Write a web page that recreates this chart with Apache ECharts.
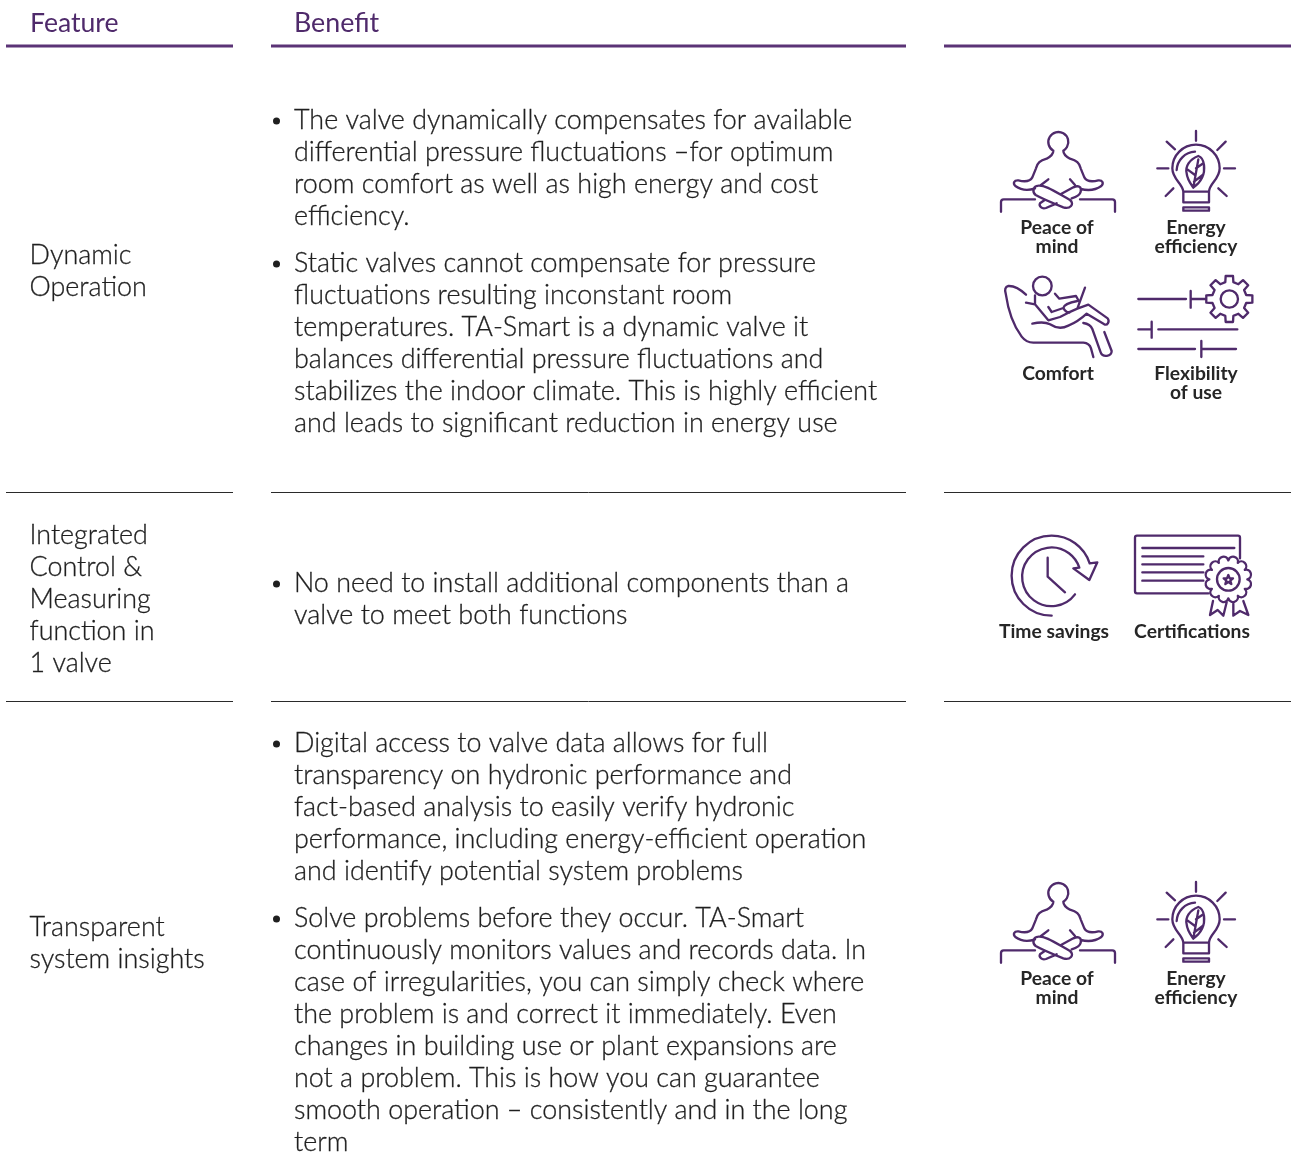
<!DOCTYPE html>
<html><head><meta charset="utf-8">
<script src="https://cdn.jsdelivr.net/npm/echarts@6/dist/echarts.min.js"></script>
<style>html,body{margin:0;padding:0;background:#fff}#c{width:1291px;height:1174px}</style>
</head><body><div id="c"></div>
<script>
const headers = ['Feature', 'Benefit'];
const features = [
  ['Dynamic', 'Operation'],
  ['Integrated', 'Control &', 'Measuring', 'function in', '1 valve'],
  ['Transparent', 'system insights']
];
const benefit1a = ['The valve dynamically compensates for available', 'differential pressure fluctuations –for optimum', 'room comfort as well as high energy and cost', 'efficiency.'];
const benefit1b = ['Static valves cannot compensate for pressure', 'fluctuations resulting inconstant room', 'temperatures. TA-Smart is a dynamic valve it', 'balances differential pressure fluctuations and', 'stabilizes the indoor climate. This is highly efficient', 'and leads to significant reduction in energy use'];
const benefit2 = ['No need to install additional components than a', 'valve to meet both functions'];
const benefit3a = ['Digital access to valve data allows for full', 'transparency on hydronic performance and', 'fact-based analysis to easily verify hydronic', 'performance, including energy-efficient operation', 'and identify potential system problems'];
const benefit3b = ['Solve problems before they occur. TA-Smart', 'continuously monitors values and records data. In', 'case of irregularities, you can simply check where', 'the problem is and correct it immediately. Even', 'changes in building use or plant expansions are', 'not a problem. This is how you can guarantee', 'smooth operation – consistently and in the long', 'term'];
const iconLabels = {peace:['Peace of','mind'], energy:['Energy','efficiency'], comfort:['Comfort'], flex:['Flexibility','of use'], time:['Time savings'], cert:['Certifications']};

const PURPLE = '#4f2a6b', INK = '#1f1f1f', RULE = '#5b3376';
const FONT = 'Lato', SIZE = 26.9, LH = 32;
const els = [];
function rule(x1, x2, y, w, c){ els.push({type:'line', shape:{x1,y1:y,x2,y2:y}, style:{stroke:c,lineWidth:w}}); }
function txt(s, x, y, o){ o=o||{}; const f=o.fill||INK; els.push({type:'text', x, y, style:{text:s, x:0, y:0, fill:f, stroke:o.stroke===0?null:f, lineWidth:o.stroke===0?0:0.3, font:(o.weight||300)+' '+(o.size||SIZE)+'px '+(o.font||FONT), textAlign:o.align||'left', textVerticalAlign:'middle'}}); }
function block(lines, x, y, lh){ lines.forEach((s,i)=>txt(s, x, y+i*(lh||LH))); }
function bullet(lines, y){ els.push({type:'circle', shape:{cx:276.5, cy:y+1, r:3.5}, style:{fill:INK}}); block(lines, 294, y); }

txt(headers[0], 30, 23, {fill:PURPLE, size:26.6, weight:400, stroke:0});
txt(headers[1], 294, 23, {fill:PURPLE, size:26.8, weight:400, stroke:0});
[[6,233],[271,906],[944,1291]].forEach(c=>{ rule(c[0],c[1],46,3,RULE); rule(c[0],c[1],492.5,1,'#2a2a2a'); rule(c[0],c[1],701.5,1,'#2a2a2a'); });

block(features[0], 29.5, 255);
block(features[1], 29.5, 535);
block(features[2], 29.5, 927);
bullet(benefit1a, 120); bullet(benefit1b, 263); bullet(benefit2, 583); bullet(benefit3a, 743);
bullet(benefit3b, 918);

let iconCount = 0;
function register(d){
  const name = 'iconShape' + (iconCount++);
  echarts.graphic.registerShape(name, echarts.graphic.extendPath(d, {}));
  return name;
}
function icon(shapeName, ox, oy){
  els.push({type:'group', x:ox, y:oy, scaleX:1/3, scaleY:1/3, children:[
    {type:shapeName, style:{fill:'none', stroke:PURPLE, lineWidth:7, lineCap:'round', lineJoin:'round'}}
  ]});
}
function label(lines, cx, y){ lines.forEach((s,i)=>txt(s, cx, y+1+i*19, {size:19.3, weight:700, align:'center', font:'Lato', fill:'#262626', stroke:0})); }

const peace = 'M190,92 C190,102 185,108 170,116 C150,122 142,128 138,145 L127,172 C120,185 105,186 85,181 C72,180 68,190 76,198 C90,208 110,214 135,205 M175,178 L153,195 '+
 'M220,92 C220,102 225,108 240,116 C260,122 268,128 272,145 L283,172 C290,185 305,186 325,181 C338,180 342,190 334,198 C320,208 300,214 272,207 M240,178 L255,195 '+
 'M190,92 A30,30 0 1 1 220,92 '+
 'M145,197 C165,195 190,212 240,240 C255,252 240,268 220,262 C190,250 160,238 137,225 C125,215 130,198 145,197 Z '+
 'M213,222 L250,202 C265,195 276,200 272,215 C270,225 255,232 245,235 M200,250 L168,264 C155,268 146,258 150,250 L163,241 '+
 'M33,275 L33,246 Q33,238 41,238 L135,238 M270,238 L367,238 Q375,238 375,246 L375,275';
const energy = 'M160,215 C158,190 127,178 127,145 A71,71 0 1 1 269,145 C269,178 238,190 237,215 Z M160,215 L160,247 L237,247 L237,215 M160,262 L237,262 L237,272 L160,272 Z '+
 'M140,150 A58,58 0 0 1 195,95 M205,108 C178,118 165,140 170,160 C172,180 185,195 190,203 C215,185 225,160 222,135 C220,120 212,110 205,108 Z M190,203 L205,118 M195,165 L172,148 M198,145 L220,130 M192,185 L218,165 '+
 'M198,33 L198,62 M110,65 L135,88 M287,65 L262,90 M82,145 L115,145 M282,145 L315,145 M107,228 L130,205 M265,205 L290,228';
const comfort = 'M108,89 C90,72 72,62 55,63 C45,65 44,75 47,85 C52,120 65,175 95,215 C105,228 115,233 130,233 L280,233 C292,234 300,240 303,250 L310,276 '+
 'M129,63 A28,28 0 1 1 185,63 A28,28 0 1 1 129,63 '+
 'M108,113 L135,118 M135,91 L135,118 L175,166 L210,156 L235,143 '+
 'M175,126 L185,141 L220,129 C222,118 240,112 262,108 M220,129 C225,140 235,143 238,143 '+
 'M195,86 L208,101 L258,93 L268,111 M285,68 L262,131 L235,143 '+
 'M262,131 L295,119 L353,160 C360,170 352,182 343,178 L290,146 C275,160 260,172 235,182 C215,192 195,188 180,178 C165,170 145,172 127,176 '+
 'M280,174 C295,176 303,182 307,192 L332,262 C338,278 365,275 365,258 L343,201';
function gear(cx, cy, rOut, rIn, n){
  let d=''; const a=2*Math.PI/n;
  for(let i=0;i<n;i++){ const t=i*a-Math.PI/2;
    const pts=[[rIn,t-a*0.30],[rOut,t-a*0.20],[rOut,t+a*0.20],[rIn,t+a*0.30]];
    pts.forEach((p,j)=>{ d+=(i===0&&j===0?'M':'L')+(cx+p[0]*Math.cos(p[1])).toFixed(1)+','+(cy+p[0]*Math.sin(p[1])).toFixed(1)+' '; });
  }
  return d+'Z ';
}
const flex = 'M25,102 L168,102 M182,78 L182,128 M182,102 L228,102 '+gear(298,102,70,52,8)+'M272,102 A26,26 0 1 1 324,102 A26,26 0 1 1 272,102 '+
 'M25,193 L65,193 M65,170 L65,218 M85,193 L322,193 M25,252 L195,252 M214,228 L214,276 M214,252 L318,252';
const time = 'M185,272 A120,120 0 1 1 299,115 M255,208 A88,88 0 1 1 268,128 M299,115 L322,112 L298,165 L250,130 L268,128 M173,98 L173,155 L225,202';
function scallop(cx,cy,r,n){ let d=''; const a=2*Math.PI/n;
  for(let i=0;i<n;i++){ const t=i*a; const x=cx+r*Math.cos(t), y=cy+r*Math.sin(t);
    const xn=cx+r*Math.cos(t+a), yn=cy+r*Math.sin(t+a);
    d+=(i===0?'M'+x.toFixed(1)+','+y.toFixed(1)+' ':'')+'A'+(r*0.24).toFixed(1)+','+(r*0.24).toFixed(1)+' 0 0 1 '+xn.toFixed(1)+','+yn.toFixed(1)+' ';
  } return d+'Z '; }
const cert = 'M345,100 L345,38 Q345,32 339,32 L36,32 Q30,32 30,38 L30,199 Q30,205 36,205 L250,205 M52,69 L328,69 M52,94 L235,94 M52,118 L235,118 M52,142 L235,142 M52,167 L235,167 '+
 scallop(310,163,57,12)+'M276,163 A34,34 0 1 1 344,163 A34,34 0 1 1 276,163 '+
 'M310,150 L314,160 L324,160 L316,167 L319,177 L310,171 L301,177 L304,167 L296,160 L306,160 Z '+
 'M264,228 L255,270 L278,255 L295,272 L305,232 M325,235 L325,272 L345,258 L370,270 L355,228';

const sPeace = register(peace), sEnergy = register(energy), sComfort = register(comfort), sFlex = register(flex), sTime = register(time), sCert = register(cert);
icon(sPeace, 990, 120); label(iconLabels.peace, 1057, 227);
icon(sEnergy, 1130, 120); label(iconLabels.energy, 1196, 227);
icon(sComfort, 990, 265); label(iconLabels.comfort, 1058, 373);
icon(sFlex, 1130, 265); label(iconLabels.flex, 1196, 373);
icon(sTime, 990, 525); label(iconLabels.time, 1054, 631);
icon(sCert, 1125, 525); label(iconLabels.cert, 1192, 631);
icon(sPeace, 990, 871); label(iconLabels.peace, 1057, 978);
icon(sEnergy, 1130, 871); label(iconLabels.energy, 1196, 978);

const chart = echarts.init(document.getElementById('c'), null, {renderer:'canvas'});
chart.setOption({animation:false, backgroundColor:'#fff', graphic:{elements:els}});
</script></body></html>
